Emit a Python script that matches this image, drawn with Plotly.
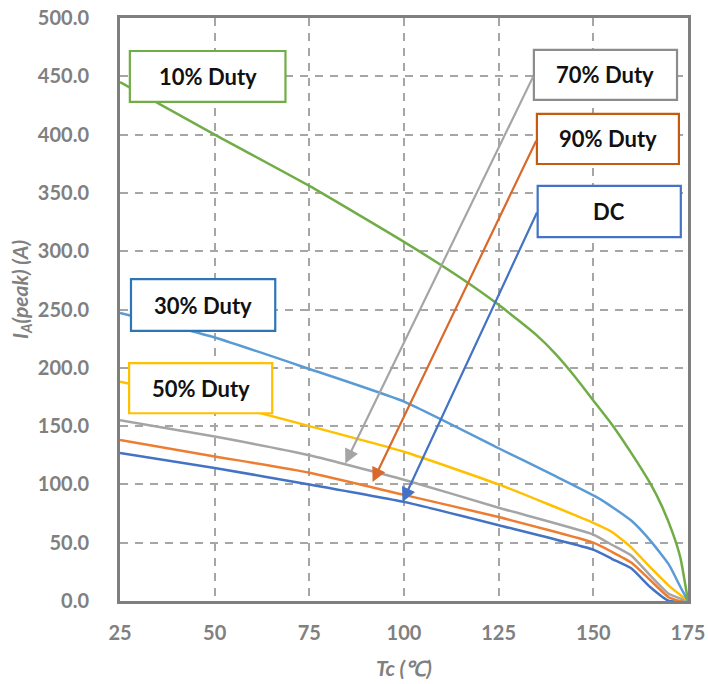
import plotly.graph_objects as go

# ---- data ----
t_10 = [25, 50, 75, 100, 115, 125, 135, 140, 145, 150, 155, 160, 165, 168, 171, 173, 175]
i_10 = [445, 400, 356, 308, 277, 254, 228, 212, 193, 172, 151, 127, 101, 82, 58, 37, 0]

t_30 = [25, 50, 75, 100, 125, 140, 152, 160, 165, 170, 173, 175]
i_30 = [247, 226, 199, 171, 131, 107, 87, 69, 52, 31, 12, 0]

t_50 = [25, 50, 75, 100, 125, 150, 155, 160, 165, 170, 175]
i_50 = [188, 171, 150, 128, 100, 67, 59, 46, 29, 13, 0]

t_70 = [25, 50, 75, 100, 125, 150, 155, 160, 165, 170, 175]
i_70 = [155, 141, 125, 104, 80, 57, 48, 39, 22, 6, 0]

t_90 = [25, 50, 75, 100, 125, 150, 155, 160, 165, 170, 173, 175]
i_90 = [138, 124, 110, 91, 72, 50, 42, 33, 18, 3, 0, 0]

t_dc = [25, 50, 75, 100, 125, 150, 155, 160, 165, 170, 175]
i_dc = [127, 114, 100, 85, 65, 44, 36, 28, 12, 0, 0]

series_names = ["10% Duty", "30% Duty", "50% Duty", "70% Duty", "90% Duty", "DC"]
series_t = [t_10, t_30, t_50, t_70, t_90, t_dc]
series_i = [i_10, i_30, i_50, i_70, i_90, i_dc]
series_colors = ["#70ad47", "#5b9bd5", "#ffc000", "#a5a5a5", "#ed7d31", "#4472c4"]

x_ticks = [25, 50, 75, 100, 125, 150, 175]
y_ticks = [0, 50, 100, 150, 200, 250, 300, 350, 400, 450, 500]

FONT = "Lato, Open Sans, sans-serif"

fig = go.Figure()
for k in [5, 4, 3, 2, 1, 0]:
    fig.add_trace(go.Scatter(x=series_t[k], y=series_i[k], mode="lines",
                             name=series_names[k],
                             line=dict(color=series_colors[k], width=2.5,
                                       shape="spline", smoothing=0.5),
                             showlegend=False, hoverinfo="skip"))

# label boxes (data coords)
boxes = [
    ("10% Duty", 27.6, 68.7, 428, 471.7, "#70ad47"),
    ("30% Duty", 27.9, 66.0, 231.6, 276, "#2e75b6"),
    ("50% Duty", 27.4, 65.2, 161, 204, "#ffc000"),
    ("70% Duty", 134.3, 172.1, 429.7, 472.6, "#8c8c8c"),
    ("90% Duty", 135.1, 172.6, 374.8, 417.7, "#c55a11"),
    ("DC", 135.3, 173.1, 312, 356, "#4472c4"),
]
for txt, x0, x1, y0, y1, c in boxes:
    fig.add_shape(type="rect", x0=x0, x1=x1, y0=y0, y1=y1, xref="x", yref="y",
                  line=dict(color=c, width=2.2), fillcolor="white", layer="above")
    fig.add_annotation(x=(x0 + x1) / 2, y=(y0 + y1) / 2, text=f"<b>{txt}</b>",
                       showarrow=False, font=dict(family=FONT, size=22, color="#111111"))

# arrows
arrows = [
    (134.3, 451, 84.5, 118, "#a5a5a5"),
    (135.1, 396, 91.7, 102, "#d9692a"),
    (135.3, 334.5, 99.6, 85, "#4472c4"),
]
for ax_, ay_, x_, y_, c in arrows:
    fig.add_annotation(x=x_, y=y_, ax=ax_, ay=ay_, xref="x", yref="y",
                       axref="x", ayref="y", text="", showarrow=True,
                       arrowhead=2, arrowsize=1.3, arrowwidth=2.2, arrowcolor=c)

axis_font = dict(family=FONT, size=20, color="#808080")

fig.update_xaxes(range=[25, 175], tickvals=x_ticks,
                 ticktext=[f"<b>{v}</b>" for v in x_ticks],
                 showgrid=True, gridcolor="#a6a6a6", gridwidth=2, griddash="8px,7px",
                 showline=True, linecolor="#7f7f7f", linewidth=3, mirror=True,
                 zeroline=False, tickfont=axis_font, ticks="", ticklabelstandoff=12,
                 automargin=False)
fig.update_yaxes(range=[0, 500], tickvals=y_ticks,
                 ticktext=[f"<b>{v:.1f}</b>" for v in y_ticks],
                 showgrid=True, gridcolor="#a6a6a6", gridwidth=2, griddash="8px,7px",
                 showline=True, linecolor="#7f7f7f", linewidth=3, mirror=True,
                 zeroline=False, tickfont=axis_font, ticks="", ticklabelstandoff=24,
                 automargin=False)

# axis titles (positioned relative to the plot area)
fig.add_annotation(x=(404 - 120) / 568, y=-(667 - 601) / 583, xref="x domain", yref="y domain",
                   text="<b><i>Tc (℃)</i></b>", showarrow=False, yanchor="middle",
                   font=dict(family=FONT, size=21, color="#808080"))
fig.add_annotation(x=-(120 - 21) / 568, y=(601 - 290) / 583, xref="x domain", yref="y domain",
                   text="<b><i>I<sub>A</sub>(peak) (A)</i></b>", showarrow=False,
                   textangle=-90, xanchor="center", yanchor="middle",
                   font=dict(family=FONT, size=21, color="#808080"))

fig.update_layout(width=708, height=684, plot_bgcolor="white", paper_bgcolor="white",
                  margin=dict(l=120, r=20, t=18, b=83), showlegend=False)

fig.write_html("out.html", config={"displayModeBar": False},
               post_script="document.body.style.margin='0';")
